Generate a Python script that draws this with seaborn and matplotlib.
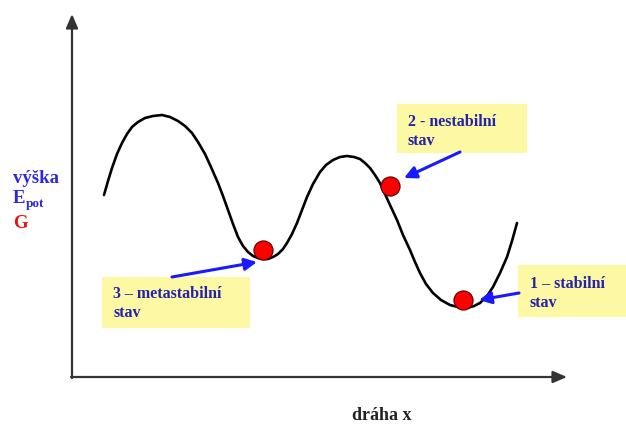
import matplotlib
matplotlib.use("Agg")
import matplotlib.pyplot as plt
import seaborn as sns
import pandas as pd
from matplotlib.patches import Rectangle

# ---- Data (pixel coordinates, y grows downward) ----------------------------
curve_x = [104, 108, 112, 117, 122, 127, 132, 138, 145, 153, 162, 170, 178,
           185, 192, 198, 205, 211, 218, 223, 228, 233, 238, 243, 248, 253,
           258, 263, 268, 273, 278, 283, 287, 292, 297, 302, 307, 313, 320,
           326, 333, 340, 347, 354, 360, 365, 370, 375, 380, 385, 390, 397,
           403, 410, 415, 420, 426, 433, 441, 450, 458, 467, 474, 480, 487,
           493, 500, 507, 512, 517]
curve_y = [195, 181, 168, 154, 143, 134, 127, 122, 118, 116, 115, 117, 121,
           126, 133, 142, 154, 167, 183, 196, 210, 224, 237, 246, 252, 256,
           258, 259, 259, 257, 254, 249, 243, 234, 223, 210, 197, 184, 172,
           165, 160, 157, 156, 157, 159, 163, 168, 175, 183, 194, 205, 220,
           235, 250, 262, 273, 284, 293, 300, 305, 307, 308, 306, 303, 296,
           287, 273, 257, 241, 223]

ball_x = [263, 390, 463]
ball_y = [250, 186, 300]

state_line1 = ["3 \u2013 metastabilní", "2 - nestabilní", "1 \u2013 stabilní"]
state_line2 = ["stav", "stav", "stav"]
line1_base = [298, 126, 288]
line2_base = [317, 145, 307]
text_left = [113, 408, 530]
box_left = [102, 397, 518]
box_top = [277, 104, 265]
box_right = [250, 527, 626]
box_bottom = [328, 153, 317]
arrow_tail = [(172, 277), (460, 152), (519, 293)]
arrow_head = [(257, 262), (404, 178), (479, 300)]

x_label = "dráha x"

# ---- Figure -----------------------------------------------------------------
sns.set_theme(style="white")
plt.rcParams["font.family"] = ["Liberation Serif", "DejaVu Serif"]

fig = plt.figure(figsize=(6.26, 4.24), dpi=100)
ax = fig.add_axes([0, 0, 1, 1])

# axes with arrowheads
axis_color = "#333333"
ax.annotate("", xy=(72, 14), xytext=(72, 378),
            arrowprops=dict(arrowstyle="-|>,head_length=0.7,head_width=0.3",
                            color=axis_color, lw=1.6, shrinkA=0, shrinkB=0))
ax.annotate("", xy=(567, 377), xytext=(71, 377),
            arrowprops=dict(arrowstyle="-|>,head_length=0.7,head_width=0.3",
                            color=axis_color, lw=1.6, shrinkA=0, shrinkB=0))

# potential curve
df_curve = pd.DataFrame({"x": curve_x, "y": curve_y})
sns.lineplot(data=df_curve, x="x", y="y", sort=False, color="black",
             linewidth=1.9, solid_joinstyle="round", solid_capstyle="round",
             ax=ax)

# balls
df_balls = pd.DataFrame({"x": ball_x, "y": ball_y})
sns.scatterplot(data=df_balls, x="x", y="y", s=190, color="#ff0000",
                edgecolor="#550000", linewidth=0.8, zorder=5, ax=ax)
ax.set_xlim(0, 626)
ax.set_ylim(424, 0)
ax.axis("off")

# state boxes with labels and arrows
text_color = "#2222aa"
for i in range(3):
    l, t, r, b = box_left[i], box_top[i], box_right[i], box_bottom[i]
    ax.add_patch(Rectangle((l, t), r - l, b - t, facecolor="#fcf8a4",
                           edgecolor="none", zorder=2))
    ax.text(text_left[i], line1_base[i], state_line1[i], ha="left",
            va="baseline", fontsize=11.5, fontweight="bold", color=text_color,
            zorder=3)
    ax.text(text_left[i], line2_base[i], state_line2[i], ha="left",
            va="baseline", fontsize=11.5, fontweight="bold", color=text_color,
            zorder=3)
    ax.annotate("", xy=arrow_head[i], xytext=arrow_tail[i],
                arrowprops=dict(arrowstyle="-|>,head_length=0.6,head_width=0.3",
                                color="#1a1aff", lw=2.2, shrinkA=0, shrinkB=0),
                zorder=4)

# vertical axis labels
blue = "#2a2ae0"
ax.text(13, 183, "výška", ha="left", va="baseline", fontsize=13.5,
        fontweight="bold", color=blue)
ax.text(13, 203, "E", ha="left", va="baseline", fontsize=13.5,
        fontweight="bold", color=blue)
ax.text(26, 207, "pot", ha="left", va="baseline", fontsize=9.5,
        fontweight="bold", color=blue)
ax.text(13, 228, "G", ha="left", va="baseline", fontsize=13.5,
        fontweight="bold", color="#ee1111")

# horizontal axis label
ax.text(382, 420, x_label, ha="center", va="baseline", fontsize=13,
        fontweight="bold", color="#222222")

fig.savefig("out.png", dpi=100)
